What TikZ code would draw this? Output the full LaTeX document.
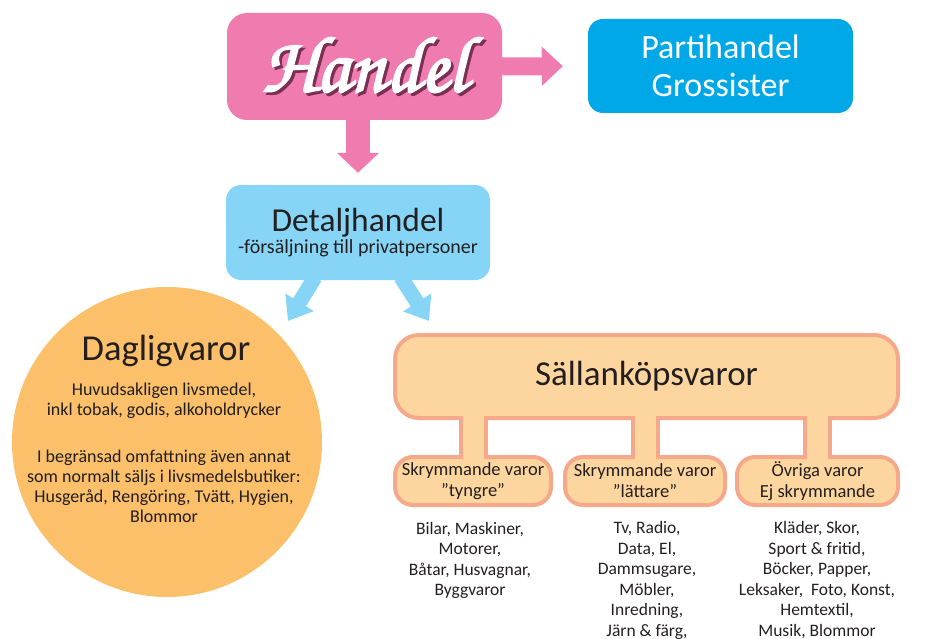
\documentclass[tikz,border=0pt]{standalone}
\usepackage{fontspec}
\usepackage{graphicx}
\setmainfont{Carlito}
\newfontfamily\handelfont[FakeBold=2.5]{TeX Gyre Chorus}
\usetikzlibrary{arrows.meta,calc}
\definecolor{pinkc}{HTML}{F07BAE}
\definecolor{shadowc}{HTML}{7A2F55}
\definecolor{partic}{HTML}{00A8E7}
\definecolor{lightblue}{HTML}{87D5F6}
\definecolor{orangec}{HTML}{FCBF6A}
\definecolor{sallfill}{HTML}{FDD69F}
\definecolor{sallborder}{HTML}{F6A98A}
\definecolor{textc}{HTML}{231F20}
\tikzset{
  pinkbox/.style={fill=pinkc, rounded corners=20pt, inner sep=0pt},
  partibox/.style={fill=partic, rounded corners=15pt, text=white, align=center, inner sep=0pt,
    font=\fontsize{34}{38}\selectfont},
  bluebox/.style={fill=lightblue, rounded corners=15pt, text=textc, align=center, inner sep=0pt},
  sallbox/.style={fill=sallfill, draw=sallborder, line width=4pt, text=textc, inner sep=0pt},
  subbox/.style={sallbox, rounded corners=18pt, align=center, font=\fontsize{18.5}{21}\selectfont},
  bodytext/.style={text=textc, align=center, inner sep=0pt, font=\fontsize{17.5}{20.5}\selectfont},
  bluearrow/.style={draw=lightblue, line width=15pt, -{Triangle[length=22pt, width=32pt]}},
}
\begin{document}
\begin{tikzpicture}[x=1pt, y=-1pt]
\useasboundingbox (0,0) rectangle (928,639);

% top boxes
\node[pinkbox, minimum width=275pt, minimum height=107pt] (handel) at (364.5,66.5)
  {\resizebox{205pt}{!}{\handelfont\fontsize{60}{60}\selectfont
   \makebox[0pt][l]{\hspace{2pt}\raisebox{-2pt}{\color{shadowc}Handel}}\color{white}Handel}};
\node[partibox, minimum width=265pt, minimum height=94pt] (parti) at (720.5,66)
  {Partihandel\\Grossister};
\node[bluebox, minimum width=264pt, minimum height=95pt] (detalj) at (358,232.5)
  {{\fontsize{33.5}{33.5}\selectfont Detaljhandel}\\[2pt]{\fontsize{20}{22}\selectfont -försäljning till privatpersoner}};

% pink arrows
\draw[draw=pinkc, line width=18pt, shorten >=25pt, -{Triangle[length=21pt, width=38pt]}]
  (handel.east) -- (parti.west);
\draw[draw=pinkc, line width=24pt, shorten >=12pt, -{Triangle[length=20pt, width=41pt]}]
  (handel.south -| detalj.north) -- (detalj.north);

% Dagligvaror circle
\node[circle, fill=orangec, minimum size=310pt, inner sep=0pt] (dagl) at (167,442) {};
\node[text=textc, inner sep=0pt, anchor=base, font=\fontsize{36.5}{36.5}\selectfont] (dtitle) at (166,360) {Dagligvaror};
\node[bodytext, anchor=base, font=\fontsize{18}{20}\selectfont] (dtext) at (164,522)
  {Huvudsakligen livsmedel,\\inkl tobak, godis, alkoholdrycker\\[27pt]
   I begränsad omfattning även annat\\som normalt säljs i livsmedelsbutiker:\\
   Husgeråd, Rengöring, Tvätt, Hygien,\\Blommor};

% Sällanköpsvaror
\node[sallbox, rounded corners=24pt, minimum width=503pt, minimum height=83pt,
  font=\fontsize{35}{35}\selectfont] (sall) at (646.5,376.5) {Sällanköpsvaror};
\node[subbox, minimum width=156pt, minimum height=48pt] (s1) at (473,481)
  {Skrymmande varor\\”tyngre”};
\node[subbox, minimum width=160pt, minimum height=48pt] (s2) at (645,481)
  {Skrymmande varor\\”lättare”};
\node[subbox, minimum width=161pt, minimum height=48pt] (s3) at (817.5,481)
  {Övriga varor\\Ej skrymmande};

% stems
\foreach \s in {s1,s2,s3}{
  \draw[sallborder, line width=29pt] (\s.north |- sall.south) -- (\s.north);
  \draw[sallfill, line width=21pt] ([yshift=6pt]\s.north |- sall.south) -- ([yshift=-6pt]\s.north);
}

% blue arrows
\coordinate (dl) at (288,321);
\coordinate (dr) at (429,321);
\draw[bluearrow] ([xshift=-43pt, yshift=3pt]detalj.south) -- (dl);
\draw[bluearrow] ([xshift=43pt, yshift=3pt]detalj.south) -- (dr);

% lists
\node[bodytext, anchor=base] (l1) at (470,595.5)
  {Bilar, Maskiner,\\Motorer,\\Båtar, Husvagnar,\\Byggvaror};
\node[bodytext, anchor=base] (l2) at (647,636)
  {Tv, Radio,\\Data, El,\\Dammsugare,\\Möbler,\\Inredning,\\Järn \& färg,};
\node[bodytext, anchor=base] (l3) at (817,636)
  {Kläder, Skor,\\Sport \& fritid,\\Böcker, Papper,\\Leksaker,\ \ Foto, Konst,\\Hemtextil,\\Musik, Blommor};
\end{tikzpicture}
\end{document}
